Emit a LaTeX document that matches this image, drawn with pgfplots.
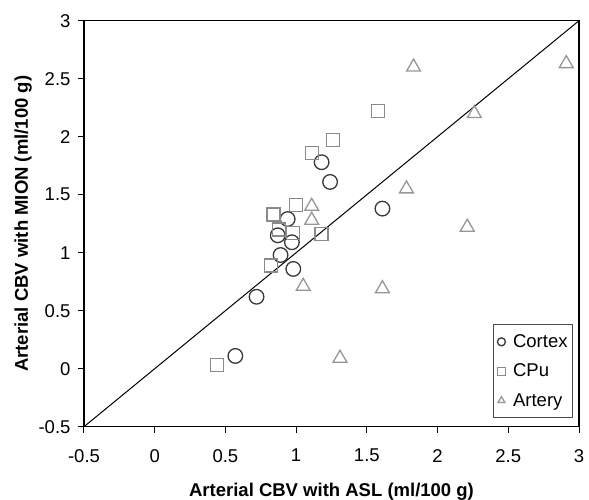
\documentclass[border=0pt]{standalone}
\usepackage{pgfplots}
\pgfplotsset{compat=1.18}
\usepackage{fontspec}
\setmainfont{Liberation Sans}

\definecolor{cortexcol}{HTML}{383838}
\definecolor{cpucol}{HTML}{8A8A8A}
\definecolor{arterycol}{HTML}{969696}

\begin{document}
\begin{tikzpicture}
\useasboundingbox (-84pt,-73.3pt) rectangle (505pt,426.7pt);
\begin{axis}[
    at={(0pt,0pt)}, anchor=south west,
    width=495pt, height=406pt,
    scale only axis,
    xmin=-0.5, xmax=3, ymin=-0.5, ymax=3,
    xtick={-0.5,0,0.5,1,1.5,2,2.5,3},
    ytick={-0.5,0,0.5,1,1.5,2,2.5,3},
    xticklabels={-0.5,0,0.5,1,1.5,2,2.5,3},
    yticklabels={-0.5,0,0.5,1,1.5,2,2.5,3},
    tick pos=left,
    tick align=outside,
    major tick length=6pt,
    axis line style={line width=1.2pt},
    tick style={line width=1pt, black},
    /pgf/number format/assume math mode=true,
    tick label style={font=\fontsize{18.5}{21}\selectfont},
    xticklabel style={yshift=-13pt},
    yticklabel style={xshift=-4pt},
    xlabel={\textbf{Arterial CBV with ASL (ml/100 g)}},
    ylabel={\textbf{Arterial CBV with MION (ml/100 g)}},
    label style={font=\fontsize{18.5}{21}\selectfont},
    xlabel style={yshift=-14pt},
    ylabel style={yshift=0pt},
    legend style={
        at={(rel axis cs:0.988,0.021)}, anchor=south east,
        draw=black!70, line width=1pt,
        font=\fontsize{18.5}{21}\selectfont,
        inner xsep=3pt, inner ysep=8pt,
        row sep=11pt,
        cells={anchor=west},
    },
    legend image code/.code={
        \path (-4.5pt,0pt) (9pt,0pt);
        \draw[#1, mark size=4pt] plot coordinates {(0pt,0pt)};
    },
]
\addplot[black, line width=1pt, forget plot] coordinates {(-0.5,-0.5) (3,3)};

\addplot[only marks, mark=o, mark size=7.3pt, draw=cortexcol, line width=1.3pt] coordinates {
    (1.18,1.78) (1.24,1.61) (1.61,1.38) (0.94,1.29) (0.87,1.15)
    (0.97,1.09) (0.89,0.98) (0.98,0.86) (0.72,0.62) (0.57,0.11)
};
\addplot[only marks, mark=square, mark size=6.5pt, draw=cpucol, line width=1.3pt] coordinates {
    (1.11,1.86) (1.26,1.97) (1.58,2.22) (1.00,1.41) (0.84,1.33)
    (0.88,1.20) (0.98,1.17) (1.18,1.16) (0.82,0.89) (0.44,0.03)
};
\addplot[only marks, mark=triangle, mark size=8pt, draw=arterycol, line width=1.3pt] coordinates {
    (1.83,2.60) (2.91,2.63) (2.26,2.20) (1.78,1.55) (2.21,1.22)
    (1.11,1.40) (1.11,1.28) (1.05,0.71) (1.61,0.69) (1.31,0.09)
};
\legend{Cortex, CPu, Artery}
\end{axis}
\end{tikzpicture}
\end{document}
